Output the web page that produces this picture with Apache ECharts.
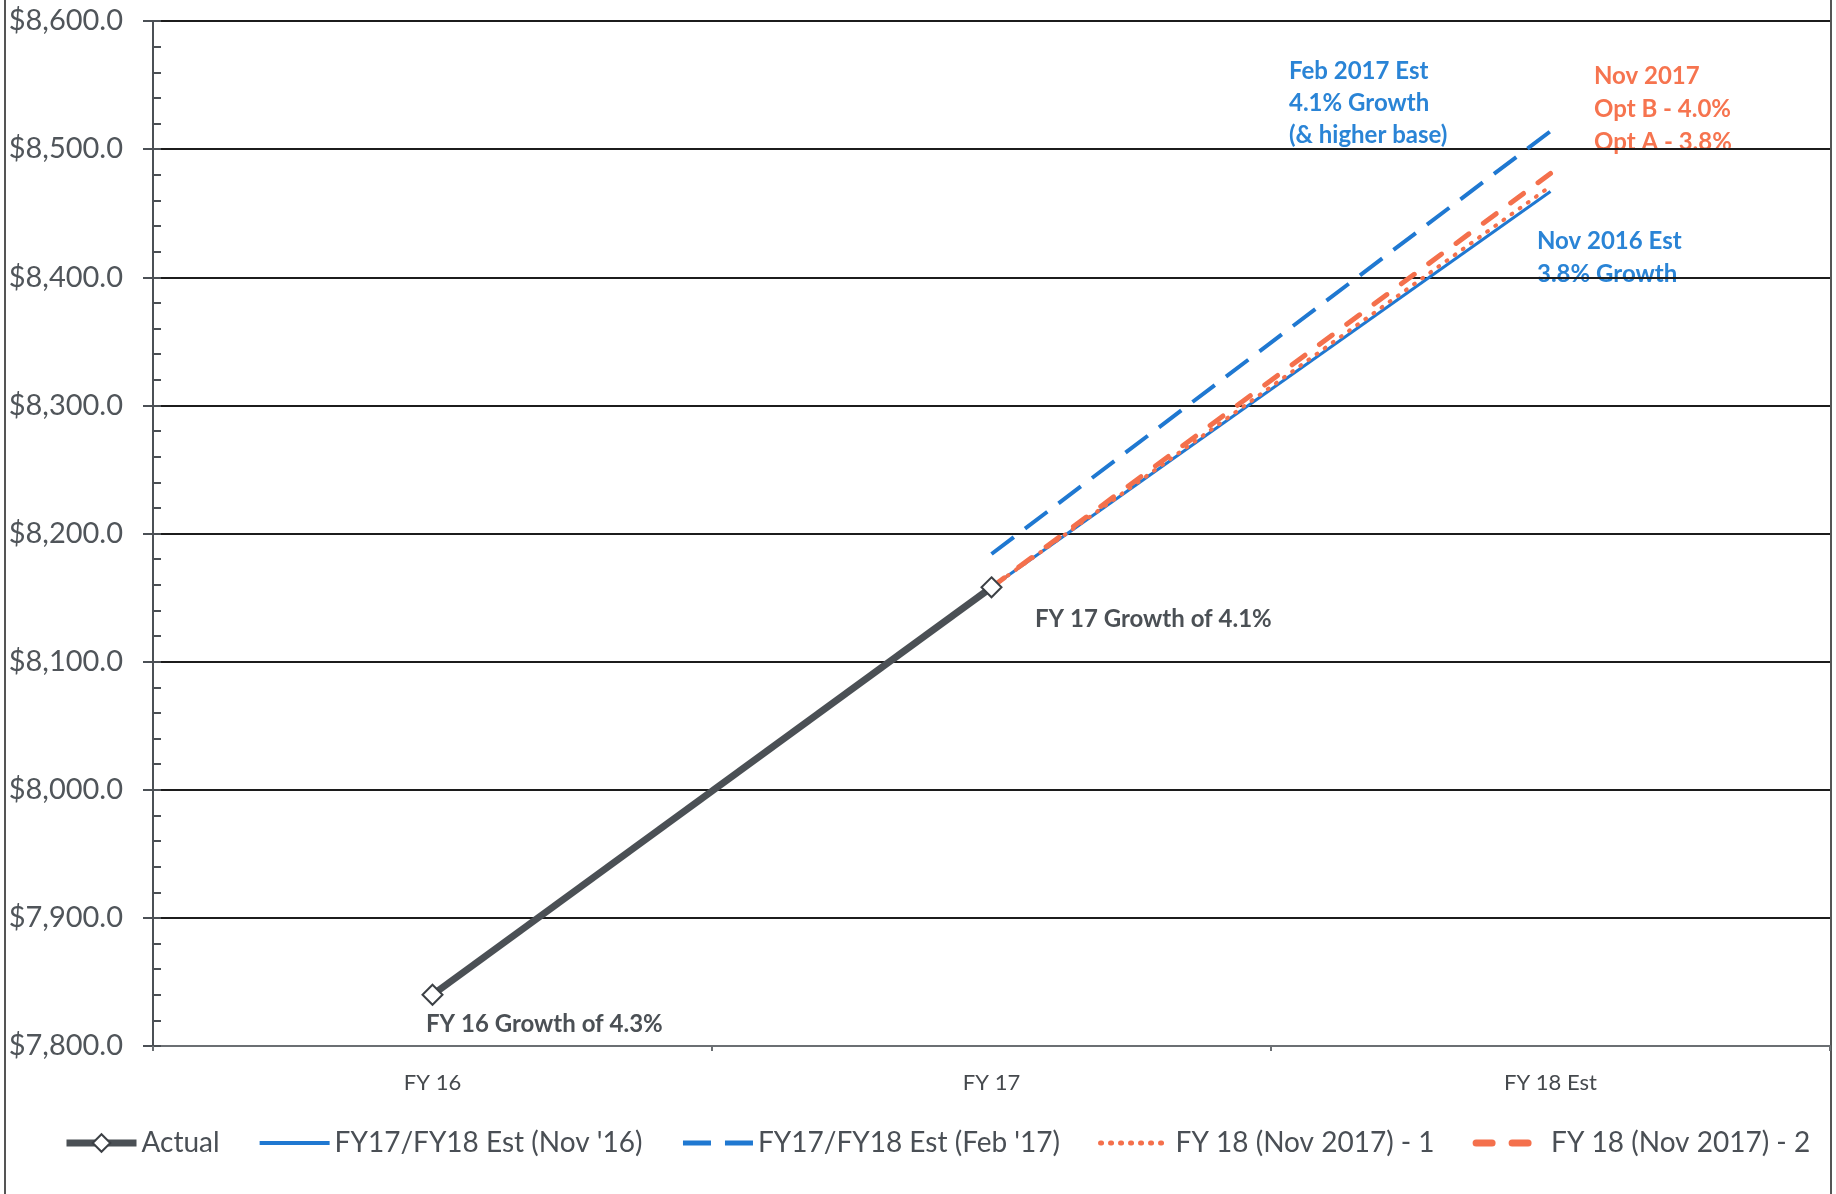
<!DOCTYPE html>
<html>
<head>
<meta charset="utf-8">
<script src="https://cdn.jsdelivr.net/npm/echarts@6/dist/echarts.min.js"></script>
<style>
  html, body { margin: 0; padding: 0; background: #ffffff; }
  #chart { width: 1836px; height: 1194px; }
</style>
</head>
<body>
<div id="chart"></div>
<script>
// Fiscal years on the category axis
const categories = ['FY 16', 'FY 17', 'FY 18 Est'];

// Revenue series ($ millions)
const actual        = [7840, 8158, null];
const estNov16      = [null, 8158, 8467];
const estFeb17      = [null, 8184, 8514];
const nov17OptA     = [null, 8158, 8471];
const nov17OptB     = [null, 8158, 8481];

// Value axis range and ticks
const yMin = 7800;
const yMax = 8600;
const yMajor = 100;
const yMinor = 20;

const BLUE = '#1f78d1';
const ORANGE = '#f4704c';
const DARK = '#4b5055';
const FONT = 'Lato, "Open Sans", sans-serif';

const chart = echarts.init(document.getElementById('chart'));

const fmtMoney = v => '$' + v.toLocaleString('en-US', { minimumFractionDigits: 1, maximumFractionDigits: 1 });

// legend entries for plain lines: hide the marker, keep a heavier stroke
const lineOnly = (name, lineStyle) => ({ name: name, itemStyle: { opacity: 0 }, lineStyle: lineStyle });

chart.setOption({
  backgroundColor: '#ffffff',
  animation: false,
  grid: { left: 153, right: 6, top: 21, bottom: 148, containLabel: false },
  xAxis: {
    type: 'category',
    data: categories,
    boundaryGap: true,
    axisLine: { show: true, lineStyle: { color: '#6b6f73', width: 2 } },
    axisTick: { show: true, length: 5, lineStyle: { color: '#6b6f73', width: 2 } },
    axisLabel: { color: '#45494d', fontFamily: FONT, fontSize: 22, margin: 26 }
  },
  yAxis: [
    {
      type: 'value',
      min: yMin, max: yMax, interval: yMajor,
      axisLine: { show: true, lineStyle: { color: DARK, width: 2 } },
      axisTick: { show: true, length: 10, lineStyle: { color: DARK, width: 2 } },
      axisLabel: { color: '#50555a', fontFamily: FONT, fontSize: 29, margin: 30, formatter: fmtMoney },
      splitLine: { show: true, lineStyle: { color: '#1c1c1c', width: 2 } }
    },
    {
      type: 'value',
      position: 'left',
      min: yMin, max: yMax, interval: yMinor,
      axisLine: { show: false },
      axisTick: { show: true, inside: true, length: 8, lineStyle: { color: DARK, width: 2 } },
      axisLabel: { show: false },
      splitLine: { show: false }
    }
  ],
  legend: {
    left: 58, top: 1124,
    itemWidth: 70, itemHeight: 22, itemGap: 38,
    textStyle: { color: '#4a4f55', fontFamily: FONT, fontSize: 28 },
    data: [
      { name: 'Actual', lineStyle: { width: 7 } },
      lineOnly("FY17/FY18 Est (Nov '16)", { width: 4 }),
      lineOnly("FY17/FY18 Est (Feb '17)", { width: 5, type: [28, 14] }),
      lineOnly('FY 18 (Nov 2017) - 1', { width: 5, type: [1, 9], cap: 'round' }),
      lineOnly('FY 18 (Nov 2017) - 2', { width: 7, type: [16, 20], cap: 'round' })
    ]
  },
  series: [
    {
      name: "FY17/FY18 Est (Nov '16)", type: 'line', data: estNov16,
      symbol: 'none', z: 3,
      lineStyle: { color: BLUE, width: 3 }, itemStyle: { color: BLUE }
    },
    {
      name: "FY17/FY18 Est (Feb '17)", type: 'line', data: estFeb17,
      symbol: 'none', z: 3,
      lineStyle: { color: BLUE, width: 4, type: [28, 14] }, itemStyle: { color: BLUE }
    },
    {
      name: 'FY 18 (Nov 2017) - 1', type: 'line', data: nov17OptA,
      symbol: 'none', z: 4,
      lineStyle: { color: ORANGE, width: 4, type: [1, 9], cap: 'round' }, itemStyle: { color: ORANGE }
    },
    {
      name: 'FY 18 (Nov 2017) - 2', type: 'line', data: nov17OptB,
      symbol: 'none', z: 4,
      lineStyle: { color: ORANGE, width: 5, type: [16, 18], cap: 'round' }, itemStyle: { color: ORANGE }
    },
    {
      name: 'Actual', type: 'line', data: actual,
      symbol: 'diamond', symbolSize: 20, z: 5,
      lineStyle: { color: DARK, width: 7 },
      itemStyle: { color: '#ffffff', borderColor: '#3c4045', borderWidth: 2 }
    }
  ],
  graphic: [
    // page frame
    { type: 'line', shape: { x1: 5, y1: 0, x2: 5, y2: 1194 }, style: { stroke: '#555', lineWidth: 2 } },
    { type: 'line', shape: { x1: 1831, y1: 0, x2: 1831, y2: 1194 }, style: { stroke: '#555', lineWidth: 2 } },
    // annotations
    { type: 'text', left: 1289, top: 55, style: { text: 'Feb 2017 Est\n4.1% Growth\n(& higher base)', fill: '#2a84d6', font: 'bold 24px ' + FONT, lineHeight: 32 } },
    { type: 'text', left: 1594, top: 60, style: { text: 'Nov 2017\nOpt B - 4.0%\nOpt A - 3.8%', fill: '#f6744f', font: 'bold 24px ' + FONT, lineHeight: 33 } },
    { type: 'text', left: 1537, top: 225, style: { text: 'Nov 2016 Est\n3.8% Growth', fill: '#2a84d6', font: 'bold 24px ' + FONT, lineHeight: 33 } },
    { type: 'text', left: 1035, top: 607, style: { text: 'FY 17 Growth of 4.1%', fill: '#4b5055', font: 'bold 24px ' + FONT } },
    { type: 'text', left: 426, top: 1012, style: { text: 'FY 16 Growth of 4.3%', fill: '#4b5055', font: 'bold 24px ' + FONT } }
  ]
});
</script>
</body>
</html>
